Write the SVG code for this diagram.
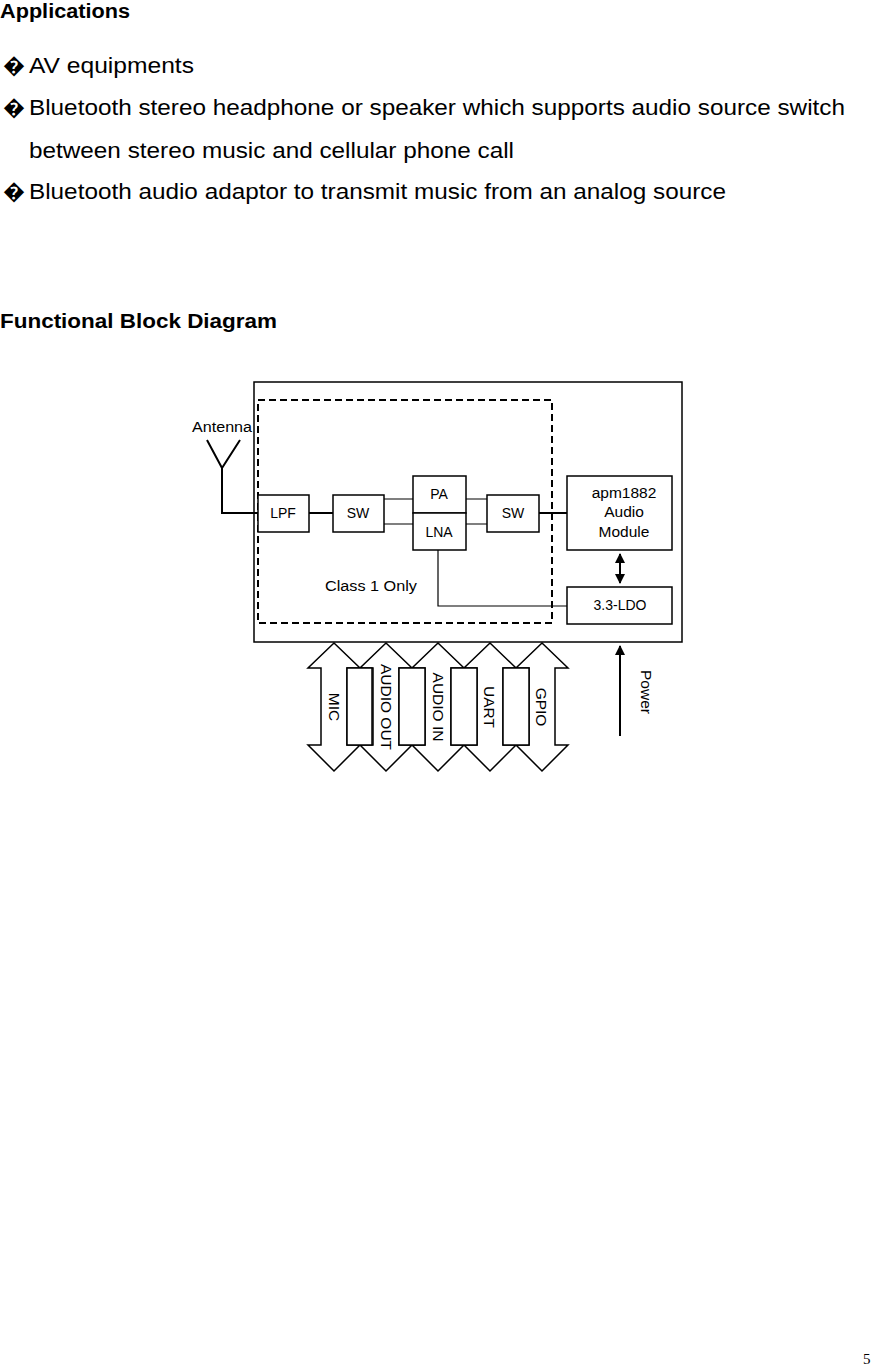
<svg xmlns="http://www.w3.org/2000/svg" width="875" height="1368" viewBox="0 0 875 1368">
<defs>
<style>
.t{font-family:"Liberation Sans",Arial,sans-serif;fill:#000}
.h{font-size:20px;font-weight:bold}
.b{font-size:22px}
.s{font-size:14px}
.m{font-size:15.5px}
.box{fill:#fff;stroke:#000;stroke-width:1.5}
.ln{fill:none;stroke:#000;stroke-width:1.2}
.th{fill:none;stroke:#000;stroke-width:2}
</style>
<marker id="ah" viewBox="0 0 10 10" refX="9" refY="5" markerWidth="5" markerHeight="5" orient="auto-start-reverse"><path d="M0,0L10,5L0,10z" fill="#000"/></marker>
</defs>
<rect width="875" height="1368" fill="#fff"/>
<text class="t h" x="0" y="18" textLength="130" lengthAdjust="spacingAndGlyphs">Applications</text>
<text class="t b" x="3" y="73">�</text>
<text class="t b" x="29" y="73" textLength="165" lengthAdjust="spacingAndGlyphs">AV equipments</text>
<text class="t b" x="3" y="115">�</text>
<text class="t b" x="29" y="115" textLength="816" lengthAdjust="spacingAndGlyphs">Bluetooth stereo headphone or speaker which supports audio source switch</text>
<text class="t b" x="29" y="158" textLength="485" lengthAdjust="spacingAndGlyphs">between stereo music and cellular phone call</text>
<text class="t b" x="3" y="199">�</text>
<text class="t b" x="29" y="199" textLength="697" lengthAdjust="spacingAndGlyphs">Bluetooth audio adaptor to transmit music from an analog source</text>
<text class="t h" x="0" y="328" textLength="277" lengthAdjust="spacingAndGlyphs">Functional Block Diagram</text>
<text x="863" y="1364" font-family="Liberation Serif,serif" font-size="15">5</text>

<g id="frame"><rect x="254" y="382" width="428" height="260" class="box"/></g>
<g id="class1"><rect x="258" y="400" width="294" height="223" fill="none" stroke="#000" stroke-width="2" stroke-dasharray="7,4"/>
<text class="t m" x="325" y="591" textLength="92" lengthAdjust="spacingAndGlyphs">Class 1 Only</text></g>
<g id="connectors">
<path class="th" d="M207,440L222,468L240,440M222,468V513H258"/>
<path class="th" d="M309,513H333"/>
<path class="ln" d="M384,499H413M384,524H413M466,499H487M466,524H487M438,550V606H567"/>
<path class="th" d="M539,513H567"/>
<path class="th" d="M620,554V583" marker-start="url(#ah)" marker-end="url(#ah)"/>
<path class="th" d="M620,736V646" marker-end="url(#ah)"/>
</g>
<g id="antenna"><text class="t m" x="192" y="432" textLength="60" lengthAdjust="spacingAndGlyphs">Antenna</text></g>
<g id="lpf"><rect class="box" x="258" y="495" width="51" height="37"/><text class="t s" x="283" y="518" text-anchor="middle">LPF</text></g>
<g id="sw1"><rect class="box" x="333" y="495" width="51" height="37"/><text class="t s" x="358" y="518" text-anchor="middle">SW</text></g>
<g id="pa"><rect class="box" x="413" y="476" width="53" height="37"/><text class="t s" x="439" y="499" text-anchor="middle">PA</text></g>
<g id="lna"><rect class="box" x="413" y="513" width="53" height="37"/><text class="t s" x="439" y="537" text-anchor="middle">LNA</text></g>
<g id="sw2"><rect class="box" x="487" y="495" width="52" height="37"/><text class="t s" x="513" y="518" text-anchor="middle">SW</text></g>
<g id="apm"><rect class="box" x="567" y="476" width="105" height="74"/>
<text class="t m" text-anchor="middle"><tspan x="624" y="498">apm1882</tspan><tspan x="624" y="517">Audio</tspan><tspan x="624" y="537">Module</tspan></text></g>
<g id="ldo"><rect class="box" x="567" y="587" width="105" height="37"/><text class="t s" x="620" y="610" text-anchor="middle">3.3-LDO</text></g>

<g id="buses">
<path class="box" d="M334,643L360,668H347V745H360L334,771L308,745H321V668H308Z"/>
<path class="box" d="M386,643L412,668H399V745H412L386,771L360,745H373V668H360Z"/>
<path class="box" d="M438,643L464,668H451V745H464L438,771L412,745H425V668H412Z"/>
<path class="box" d="M490,643L516,668H503V745H516L490,771L464,745H477V668H464Z"/>
<path class="box" d="M542,643L568,668H555V745H568L542,771L516,745H529V668H516Z"/>
<rect class="box" x="347" y="668" width="25" height="77"/>
<rect class="box" x="399" y="668" width="26" height="77"/>
<rect class="box" x="451" y="668" width="26" height="77"/>
<rect class="box" x="503" y="668" width="26" height="77"/>
<text class="t m" transform="translate(329,707) rotate(90)" text-anchor="middle">MIC</text>
<text class="t m" transform="translate(381,707) rotate(90)" text-anchor="middle">AUDIO OUT</text>
<text class="t m" transform="translate(433,707) rotate(90)" text-anchor="middle">AUDIO IN</text>
<text class="t m" transform="translate(484,707) rotate(90)" text-anchor="middle">UART</text>
<text class="t m" transform="translate(536,707) rotate(90)" text-anchor="middle">GPIO</text>
<text class="t m" transform="translate(641,692) rotate(90)" text-anchor="middle">Power</text>
</g>
</svg>
